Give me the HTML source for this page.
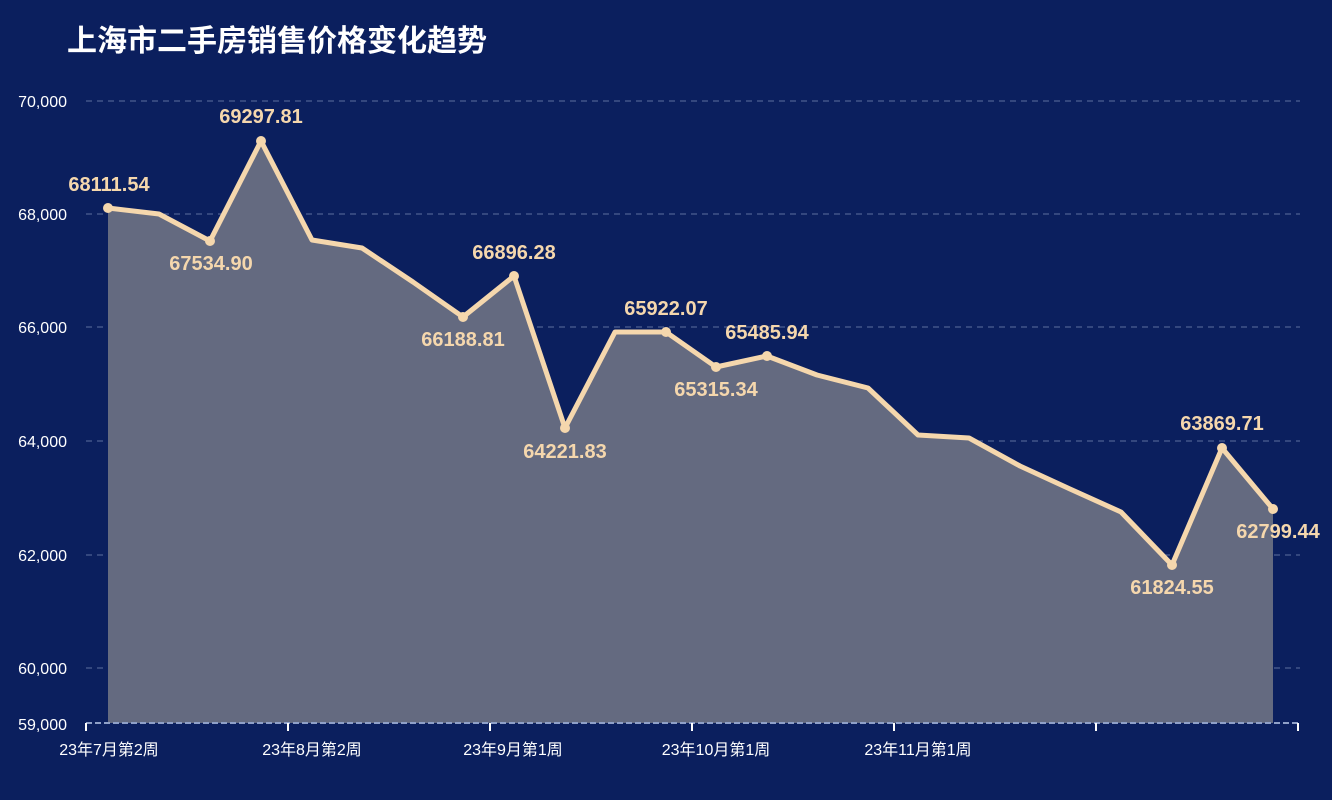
<!DOCTYPE html>
<html><head><meta charset="utf-8"><style>
html,body{margin:0;padding:0;background:#0b1f5e;}
svg{display:block}
</style></head><body>
<svg width="1332" height="800" xmlns="http://www.w3.org/2000/svg">
<rect width="1332" height="800" fill="#0b1f5e"/>
<text x="67" y="51" font-family="'Liberation Sans','Noto Sans CJK SC',sans-serif" font-size="30" font-weight="bold" fill="#ffffff">上海市二手房销售价格变化趋势</text>
<g stroke="#5c6f9e" stroke-dasharray="6,5" stroke-width="1">
<line x1="86" y1="101" x2="1300" y2="101"/>
<line x1="86" y1="214" x2="1300" y2="214"/>
<line x1="86" y1="327" x2="1300" y2="327"/>
<line x1="86" y1="441" x2="1300" y2="441"/>
<line x1="86" y1="555" x2="1300" y2="555"/>
<line x1="86" y1="668" x2="1300" y2="668"/>
</g>
<g font-family="'Liberation Sans',sans-serif" font-size="16" fill="#ffffff" text-anchor="end">
<text x="67" y="107">70,000</text>
<text x="67" y="220">68,000</text>
<text x="67" y="333">66,000</text>
<text x="67" y="447">64,000</text>
<text x="67" y="561">62,000</text>
<text x="67" y="674">60,000</text>
<text x="67" y="730">59,000</text>
</g>
<polygon fill="#646a80" points="108,723 108,208 159,214 210,241 261,141 312,240 362,248 413,282 463,317 514,276 565,428 615,332 666,332 716,367 767,356 817,375 868,388 918,435 969,438 1020,466 1070,489 1121,512 1172,565 1222,448 1273,509 1273,723"/>
<line x1="86" y1="723" x2="1300" y2="723" stroke="#8fa0c8" stroke-width="2" stroke-dasharray="6,3"/>
<g stroke="#ffffff" stroke-width="2">
<line x1="86" y1="723" x2="86" y2="731"/><line x1="288" y1="723" x2="288" y2="731"/><line x1="490" y1="723" x2="490" y2="731"/><line x1="692" y1="723" x2="692" y2="731"/><line x1="894" y1="723" x2="894" y2="731"/><line x1="1096" y1="723" x2="1096" y2="731"/><line x1="1298" y1="723" x2="1298" y2="731"/>
</g>
<g font-family="'Liberation Sans','Noto Sans CJK SC',sans-serif" font-size="16" fill="#ffffff" text-anchor="middle">
<text x="109" y="755">23年7月第2周</text>
<text x="312" y="755">23年8月第2周</text>
<text x="513" y="755">23年9月第1周</text>
<text x="716" y="755">23年10月第1周</text>
<text x="918" y="755">23年11月第1周</text>
</g>
<polyline fill="none" stroke="#f5d7ad" stroke-width="5" stroke-linejoin="round" points="108,208 159,214 210,241 261,141 312,240 362,248 413,282 463,317 514,276 565,428 615,332 666,332 716,367 767,356 817,375 868,388 918,435 969,438 1020,466 1070,489 1121,512 1172,565 1222,448 1273,509"/>
<g fill="#f5d7ad">
<circle cx="108" cy="208" r="5"/><circle cx="210" cy="241" r="5"/><circle cx="261" cy="141" r="5"/><circle cx="463" cy="317" r="5"/><circle cx="514" cy="276" r="5"/><circle cx="565" cy="428" r="5"/><circle cx="666" cy="332" r="5"/><circle cx="716" cy="367" r="5"/><circle cx="767" cy="356" r="5"/><circle cx="1172" cy="565" r="5"/><circle cx="1222" cy="448" r="5"/><circle cx="1273" cy="509" r="5"/>
</g>
<g font-family="'Liberation Sans',sans-serif" font-size="20" font-weight="bold" fill="#f5d7ad" text-anchor="middle">
<text x="109" y="191">68111.54</text>
<text x="211" y="270">67534.90</text>
<text x="261" y="123">69297.81</text>
<text x="463" y="346">66188.81</text>
<text x="514" y="259">66896.28</text>
<text x="565" y="458">64221.83</text>
<text x="666" y="315">65922.07</text>
<text x="716" y="396">65315.34</text>
<text x="767" y="339">65485.94</text>
<text x="1172" y="594">61824.55</text>
<text x="1222" y="430">63869.71</text>
<text x="1278" y="538">62799.44</text>
</g>
</svg>
</body></html>
